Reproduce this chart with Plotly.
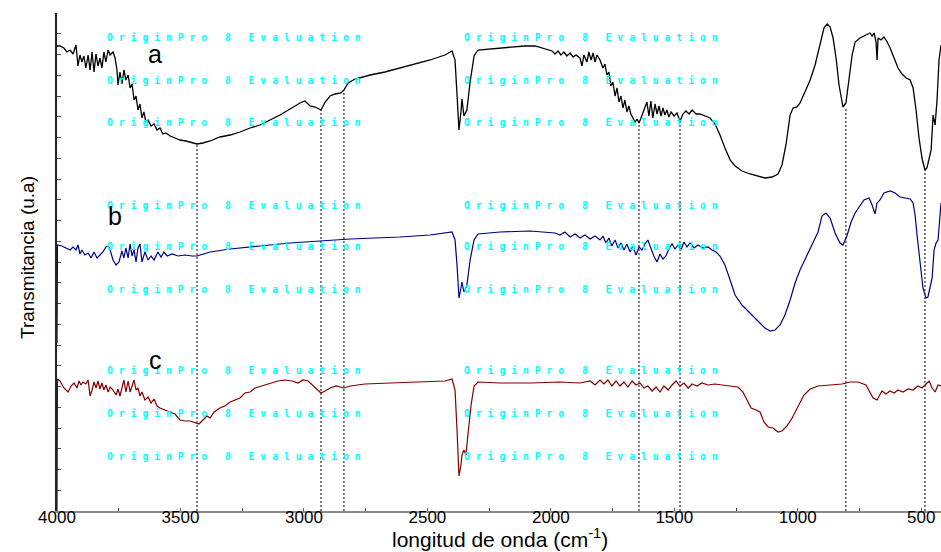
import plotly.graph_objects as go

# ---------------- data (wavenumber cm-1, transmittance in arbitrary units) ----------------
wn_a = [4000, 3988, 3972, 3960, 3947, 3935, 3923, 3915, 3907, 3899,
        3891, 3883, 3874, 3866, 3858, 3850, 3842, 3834, 3826, 3818,
        3810, 3802, 3793, 3785, 3773, 3765, 3757, 3753, 3745, 3737,
        3729, 3721, 3712, 3704, 3696, 3688, 3680, 3672, 3664, 3656,
        3648, 3640, 3631, 3619, 3607, 3595, 3583, 3571, 3559, 3542,
        3522, 3502, 3478, 3453, 3433, 3409, 3380, 3340, 3299, 3259,
        3218, 3178, 3137, 3097, 3056, 3016, 2996, 2975, 2955, 2931,
        2914, 2894, 2874, 2850, 2838, 2821, 2793, 2732, 2672, 2611,
        2550, 2489, 2429, 2400, 2388, 2380, 2372, 2364, 2360, 2352,
        2340, 2327, 2311, 2295, 2246, 2206, 2145, 2105, 2064, 2036,
        2012, 1995, 1983, 1971, 1959, 1947, 1935, 1922, 1910, 1898,
        1882, 1874, 1866, 1854, 1846, 1837, 1829, 1821, 1813, 1801,
        1789, 1781, 1773, 1765, 1757, 1749, 1740, 1732, 1724, 1716,
        1708, 1700, 1692, 1684, 1676, 1668, 1659, 1651, 1643, 1635,
        1623, 1611, 1603, 1595, 1587, 1578, 1570, 1562, 1554, 1546,
        1538, 1530, 1522, 1513, 1501, 1489, 1477, 1465, 1453, 1440,
        1428, 1412, 1396, 1376, 1355, 1335, 1315, 1295, 1274, 1254,
        1226, 1193, 1161, 1133, 1104, 1080, 1064, 1048, 1031, 1019,
        1003, 991, 971, 950, 930, 918, 906, 894, 881, 869,
        857, 845, 833, 817, 805, 792, 780, 768, 748, 724,
        707, 699, 691, 683, 679, 675, 663, 651, 638, 626,
        610, 594, 578, 561, 545, 533, 521, 509, 497, 485,
        477, 468, 460, 452, 444, 436, 428, 420]
t_a = [465, 465, 463, 459, 461, 457, 466, 445, 456, 449,
       455, 443, 456, 441, 459, 439, 457, 445, 453, 443,
       459, 449, 461, 456, 459, 453, 441, 426, 439, 427,
       441, 431, 436, 423, 427, 411, 415, 401, 407, 393,
       399, 389, 391, 385, 387, 381, 383, 377, 378, 375,
       373, 371, 370, 368, 367, 368, 370, 374, 376, 379,
       383, 386, 391, 396, 402, 408, 410, 405, 404, 401,
       409, 415, 417, 418, 421, 428, 432, 436, 439, 443,
       447, 451, 456, 460, 451, 411, 381, 399, 412, 395,
       401, 429, 455, 461, 462, 463, 464, 465, 465, 463,
       461, 460, 457, 460, 456, 459, 455, 458, 454, 456,
       453, 445, 456, 449, 459, 451, 458, 449, 456, 451,
       443, 447, 436, 439, 425, 429, 415, 423, 409, 415,
       403, 411, 399, 405, 397, 393, 389, 392, 388, 393,
       401, 409, 395, 410, 393, 407, 397, 405, 395, 403,
       396, 401, 394, 399, 395, 398, 390, 397, 400, 397,
       401, 397, 397, 395, 393, 387, 376, 363, 351, 345,
       340, 337, 335, 333, 334, 337, 346, 366, 396, 403,
       404, 408, 419, 431, 446, 459, 473, 483, 487, 484,
       473, 453, 426, 404, 408, 431, 456, 469, 473, 476,
       478, 475, 478, 469, 451, 473, 471, 474, 469, 463,
       453, 443, 437, 433, 431, 423, 401, 373, 353, 341,
       343, 353, 361, 396, 386, 411, 451, 466]

wn_b = [4000, 3998, 3980, 3960, 3947, 3935, 3923, 3915, 3907, 3899,
        3887, 3874, 3862, 3850, 3838, 3826, 3814, 3802, 3793, 3785,
        3773, 3761, 3749, 3737, 3729, 3721, 3712, 3704, 3696, 3688,
        3680, 3672, 3664, 3656, 3644, 3631, 3619, 3607, 3591, 3579,
        3567, 3554, 3534, 3510, 3482, 3453, 3433, 3380, 3299, 3178,
        3056, 2935, 2813, 2611, 2489, 2400, 2388, 2380, 2372, 2364,
        2360, 2352, 2340, 2327, 2311, 2295, 2206, 2084, 1983, 1963,
        1943, 1922, 1902, 1882, 1862, 1841, 1821, 1801, 1789, 1777,
        1765, 1753, 1740, 1728, 1716, 1704, 1692, 1679, 1668, 1655,
        1643, 1631, 1619, 1607, 1595, 1583, 1570, 1558, 1546, 1534,
        1522, 1509, 1497, 1485, 1473, 1461, 1449, 1436, 1420, 1404,
        1384, 1364, 1347, 1331, 1315, 1295, 1274, 1254, 1226, 1193,
        1161, 1133, 1112, 1092, 1072, 1052, 1031, 1011, 991, 967,
        942, 918, 902, 886, 869, 849, 829, 817, 801, 784,
        768, 748, 732, 711, 699, 687, 679, 667, 651, 626,
        606, 586, 566, 545, 533, 525, 517, 505, 493, 481,
        473, 464, 456, 448, 440, 432, 424, 420]
t_b = [168, 266, 265, 263, 261, 264, 261, 266, 257, 261,
       256, 258, 253, 259, 253, 256, 259, 264, 265, 261,
       251, 246, 249, 260, 253, 263, 253, 267, 255, 261,
       249, 263, 267, 249, 259, 251, 255, 251, 259, 254,
       259, 255, 257, 255, 256, 255, 255, 259, 262, 265,
       268, 270, 272, 274, 276, 279, 271, 246, 213, 223,
       229, 219, 226, 251, 271, 277, 279, 280, 278, 276,
       279, 274, 277, 273, 276, 272, 275, 271, 275, 268,
       273, 265, 271, 263, 268, 261, 267, 259, 265, 256,
       264, 261, 267, 271, 263, 255, 249, 257, 252, 255,
       262, 267, 262, 266, 261, 269, 264, 268, 263, 266,
       263, 264, 261, 259, 255, 246, 231, 216, 206, 198,
       190, 183, 180, 181, 186, 196, 211, 228, 241, 254,
       267, 279, 295, 298, 293, 278, 268, 266, 275, 289,
       298, 306, 311, 313, 306, 297, 308, 311, 318, 320,
       318, 314, 313, 312, 308, 296, 276, 246, 223, 213,
       214, 224, 233, 261, 268, 271, 301, 308]

wn_c = [4000, 3998, 3988, 3972, 3955, 3943, 3931, 3919, 3911, 3903,
        3895, 3883, 3874, 3866, 3858, 3850, 3842, 3834, 3826, 3818,
        3810, 3802, 3793, 3785, 3773, 3761, 3753, 3745, 3737, 3729,
        3721, 3712, 3704, 3696, 3688, 3680, 3672, 3664, 3656, 3644,
        3631, 3619, 3607, 3595, 3583, 3563, 3542, 3522, 3502, 3482,
        3461, 3441, 3425, 3409, 3392, 3380, 3364, 3340, 3320, 3299,
        3279, 3259, 3239, 3218, 3198, 3170, 3137, 3105, 3077, 3048,
        3024, 3004, 2983, 2967, 2951, 2931, 2914, 2894, 2870, 2838,
        2813, 2753, 2651, 2530, 2429, 2400, 2388, 2380, 2372, 2364,
        2360, 2352, 2344, 2336, 2323, 2311, 2295, 2206, 2084, 1963,
        1882, 1841, 1821, 1801, 1785, 1769, 1753, 1736, 1720, 1704,
        1688, 1671, 1655, 1639, 1623, 1607, 1590, 1574, 1558, 1542,
        1525, 1509, 1493, 1477, 1461, 1444, 1428, 1408, 1388, 1364,
        1335, 1307, 1274, 1242, 1222, 1206, 1189, 1169, 1153, 1137,
        1120, 1100, 1080, 1064, 1044, 1023, 999, 975, 950, 918,
        869, 821, 788, 756, 724, 707, 695, 679, 667, 659,
        643, 626, 610, 594, 574, 553, 533, 513, 497, 481,
        468, 456, 444, 432, 420]
t_c = [0, 132, 130, 123, 119, 125, 128, 123, 130, 126,
       129, 127, 131, 115, 121, 129, 123, 130, 122, 128,
       121, 126, 119, 124, 121, 116, 122, 115, 123, 131,
       119, 130, 119, 125, 131, 121, 123, 115, 119, 111,
       114, 108, 112, 105, 103, 101, 99, 97, 91, 90,
       90, 88, 87, 91, 95, 93, 99, 103, 105, 109,
       111, 113, 118, 119, 123, 125, 128, 130, 131, 130,
       128, 131, 130, 126, 123, 118, 120, 123, 125, 123,
       125, 127, 128, 129, 130, 132, 121, 81, 35, 46,
       56, 61, 56, 76, 106, 125, 129, 128, 128, 129,
       128, 130, 126, 131, 127, 131, 125, 130, 125, 129,
       124, 130, 126, 128, 123, 125, 120, 124, 119, 125,
       121, 126, 130, 125, 128, 123, 127, 125, 128, 126,
       127, 126, 125, 124, 119, 111, 103, 101, 99, 89,
       84, 83, 79, 80, 85, 93, 104, 116, 122, 125,
       126, 127, 129, 129, 126, 119, 113, 111, 116, 120,
       117, 120, 118, 121, 119, 122, 121, 125, 123, 127,
       130, 123, 119, 126, 125]

# band markers (dotted guide lines) : wavenumber and top value on curve a
band_wn = [3433, 2931, 2838, 1643, 1477, 805, 485]
band_top = [367, 401, 419, 389, 391, 403, 341]

x_ticks = [4000, 3500, 3000, 2500, 2000, 1500, 1000, 500]
x_ticktext = ["4000", "3500", "3000", "2500", "2000", "1500", "1000", "500"]

curve_labels = ["a", "b", "c"]
watermark = "OriginPro 8 Evaluation"

# ---------------- layout helpers ----------------
W_FIG, H_FIG = 941, 552
ML, MR, MT, MB = 57, 0, 13, 41
PW, PH = W_FIG - ML - MR, H_FIG - MT - MB


def paper(xp, yp):
    return (xp - ML) / PW, (MT + PH - yp) / PH


fig = go.Figure()

bx, by = [], []
for w, top in zip(band_wn, band_top):
    bx += [w, w, None]
    by += [0, top, None]
fig.add_trace(go.Scatter(x=bx, y=by, mode="lines",
                         line=dict(color="black", width=1, dash="2px,2px"),
                         hoverinfo="skip", showlegend=False))

fig.add_trace(go.Scatter(x=wn_a, y=t_a, mode="lines", name="a",
                         line=dict(color="#000000", width=1.3), showlegend=False))
fig.add_trace(go.Scatter(x=wn_b, y=t_b, mode="lines", name="b",
                         line=dict(color="#00007f", width=1.2), showlegend=False))
fig.add_trace(go.Scatter(x=wn_c, y=t_c, mode="lines", name="c",
                         line=dict(color="#7f0000", width=1.2), showlegend=False))

annotations = []
# watermarks
wm_text = "\u00a0".join(list(watermark.replace(" ", "\u00a0")))
for yp in [37, 80, 123, 205, 247, 289, 370, 413, 456]:
    for xp in [105, 462]:
        px_, py_ = paper(xp, yp)
        annotations.append(dict(x=px_, y=py_, xref="paper", yref="paper",
                                text=wm_text, showarrow=False,
                                xanchor="left", yanchor="middle",
                                font=dict(family="DejaVu Sans Mono", size=9.8, color="#00ffff",
                                          weight="bold")))

# curve labels
for lab, (xp, yp) in zip(curve_labels, [(155, 54), (115, 216), (155, 360)]):
    px_, py_ = paper(xp, yp)
    annotations.append(dict(x=px_, y=py_, xref="paper", yref="paper", text=lab,
                            showarrow=False, xanchor="center", yanchor="middle",
                            font=dict(family="Arial", size=25, color="black")))

# axis titles
px_, py_ = paper(27, 258)
annotations.append(dict(x=px_, y=py_, xref="paper", yref="paper",
                        text="Transmitancia (u.a)", textangle=-90, showarrow=False,
                        xanchor="center", yanchor="middle",
                        font=dict(family="Arial", size=19, color="black")))
px_, py_ = paper(500, 538)
annotations.append(dict(x=px_, y=py_, xref="paper", yref="paper",
                        text="longitud de onda (cm<sup>-1</sup>)", showarrow=False,
                        xanchor="center", yanchor="middle",
                        font=dict(family="Arial", size=21, color="black")))

fig.update_layout(
    width=W_FIG, height=H_FIG,
    margin=dict(l=ML, r=MR, t=MT, b=MB, pad=0),
    paper_bgcolor="white", plot_bgcolor="white",
    showlegend=False,
    annotations=annotations,
    xaxis=dict(range=[4000, 420], tickvals=x_ticks, ticktext=x_ticktext,
               ticks="inside", ticklen=3, tickcolor="#666666", ticklabelstandoff=-10,
               showline=True, linecolor="#8a8a8a", linewidth=1.5,
               showgrid=False, zeroline=False, layer="below traces",
               tickfont=dict(family="Arial", size=17, color="black"),
               minor=dict(dtick=250, tick0=0, ticks="inside", ticklen=3, tickcolor="#444444")),
    yaxis=dict(range=[0, 498], showticklabels=False,
               ticks="inside", ticklen=4, tickcolor="#555555", tick0=498, dtick=20.75,
               showline=True, linecolor="#222222", linewidth=1.5,
               showgrid=False, zeroline=False, layer="below traces"),
)

fig.write_html("out.html", config={"displayModeBar": False},
               post_script="document.body.style.margin='0';document.body.style.overflow='hidden';")
